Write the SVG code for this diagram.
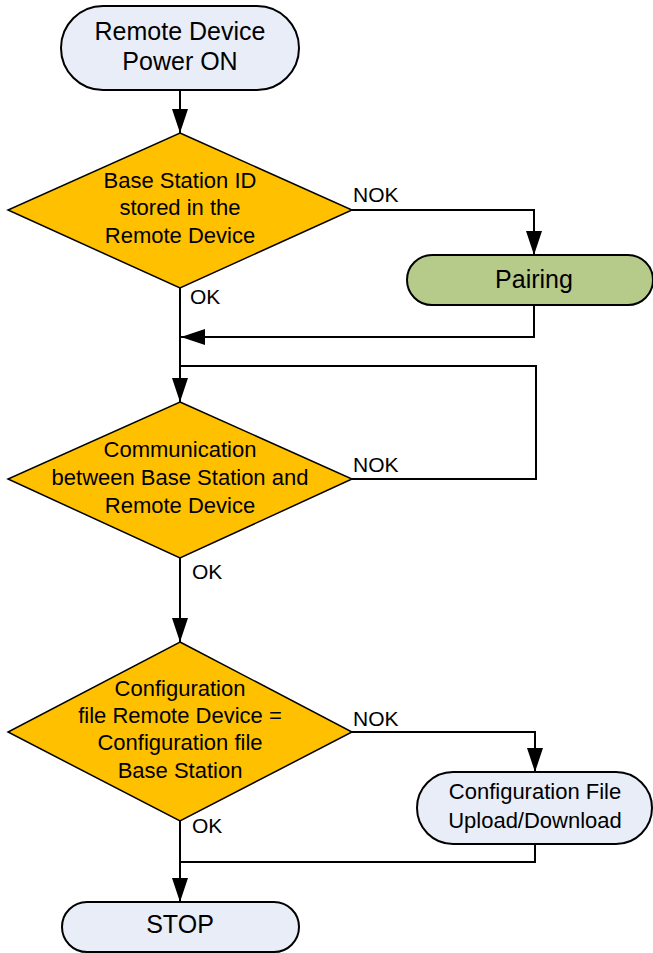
<svg xmlns="http://www.w3.org/2000/svg" width="653" height="953" viewBox="0 0 653 953">
<defs>
<marker id="arr" markerUnits="userSpaceOnUse" markerWidth="24" markerHeight="16" refX="24" refY="8" orient="auto">
<path d="M0,0 L24,8 L0,16 z" fill="#000"/>
</marker>
<style>
.term{fill:#e9edf7;stroke:#000;stroke-width:2}
.pair{fill:#b6ca8a;stroke:#000;stroke-width:2}
.dec{fill:#ffc000;stroke:#000;stroke-width:1.5}
.t{font-family:"Liberation Sans",Arial,sans-serif;fill:#000;text-anchor:middle}
.lbl{font-family:"Liberation Sans",Arial,sans-serif;fill:#000;font-size:21px}
.c{fill:none;stroke:#000;stroke-width:2}
</style>
</defs>
<rect width="653" height="953" fill="#fff"/>
<g id="connectors">
<path class="c" d="M180,90 V133" marker-end="url(#arr)"/>
<path class="c" d="M352,210 H534 V255" marker-end="url(#arr)"/>
<path class="c" d="M534,305 V337 H181" marker-end="url(#arr)"/>
<path class="c" d="M180,288 V402" marker-end="url(#arr)"/>
<path class="c" d="M352,479 H536 V366 H180"/>
<path class="c" d="M180,558 V642" marker-end="url(#arr)"/>
<path class="c" d="M352,732 H535 V772" marker-end="url(#arr)"/>
<path class="c" d="M535,844 V862 H180"/>
<path class="c" d="M180,821 V902" marker-end="url(#arr)"/>
<text class="lbl" x="353" y="202">NOK</text>
<text class="lbl" x="190" y="304">OK</text>
<text class="lbl" x="353" y="472">NOK</text>
<text class="lbl" x="192" y="579">OK</text>
<text class="lbl" x="353" y="726">NOK</text>
<text class="lbl" x="192" y="833">OK</text>
</g>
<g id="start">
<rect class="term" x="61" y="6" width="238" height="84" rx="42"/>
<text class="t" font-size="25" x="180" y="40">Remote Device</text>
<text class="t" font-size="25" x="180" y="70">Power ON</text>
</g>
<g id="decision1">
<polygon class="dec" points="180,133 352,210 180,288 8,210"/>
<text class="t" font-size="22" x="180" y="188">Base Station ID</text>
<text class="t" font-size="22" x="180" y="215">stored in the</text>
<text class="t" font-size="22" x="180" y="243">Remote Device</text>
</g>
<g id="pairing">
<rect class="pair" x="407" y="255" width="246" height="50" rx="25"/>
<text class="t" font-size="25" x="534" y="288">Pairing</text>
</g>
<g id="decision2">
<polygon class="dec" points="180,402 352,479 180,558 8,479"/>
<text class="t" font-size="22" x="180" y="457">Communication</text>
<text class="t" font-size="22" x="180" y="485">between Base Station and</text>
<text class="t" font-size="22" x="180" y="513">Remote Device</text>
</g>
<g id="decision3">
<polygon class="dec" points="180,642 352,732 180,821 8,732"/>
<text class="t" font-size="22" x="180" y="696">Configuration</text>
<text class="t" font-size="22" x="180" y="723">file Remote Device =</text>
<text class="t" font-size="22" x="180" y="750">Configuration file</text>
<text class="t" font-size="22" x="180" y="778">Base Station</text>
</g>
<g id="configfile">
<rect class="term" x="417" y="772" width="235" height="72" rx="36"/>
<text class="t" font-size="22" x="535" y="799">Configuration File</text>
<text class="t" font-size="22" x="535" y="828">Upload/Download</text>
</g>
<g id="stop">
<rect class="term" x="62" y="902" width="237" height="50" rx="25"/>
<text class="t" font-size="25" x="180" y="933">STOP</text>
</g>
</svg>
